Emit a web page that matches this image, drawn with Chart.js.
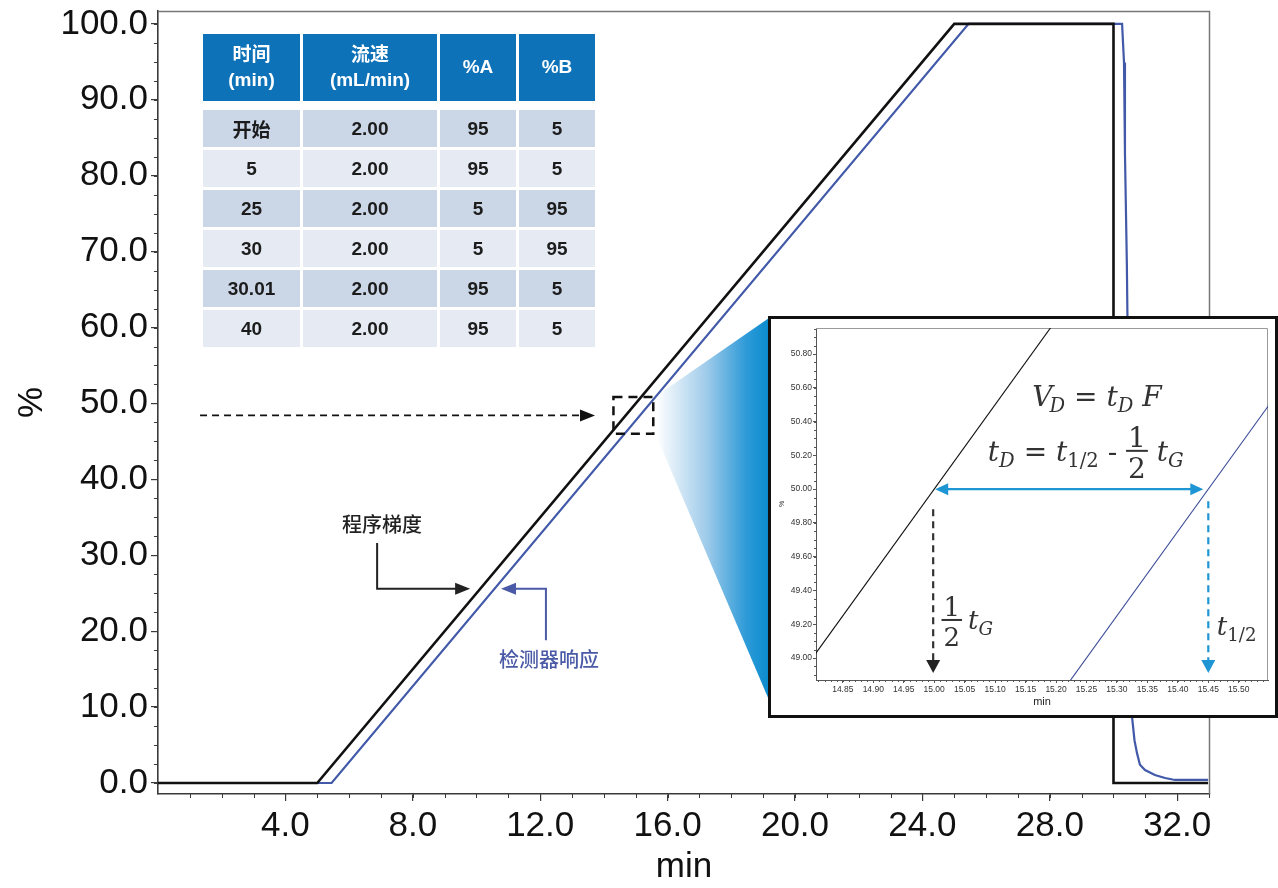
<!DOCTYPE html>
<html>
<head>
<meta charset="utf-8">
<script src="https://cdn.jsdelivr.net/npm/chart.js@4.4.1/dist/chart.umd.min.js"></script>
<style>
  html, body { margin: 0; padding: 0; background: #fff; }
  #wrap { position: relative; width: 1278px; height: 888px; overflow: hidden; }
  #main { position: absolute; left: 0; top: 0; }
  #zoomPanel { position: absolute; box-sizing: border-box; border: 3px solid #111; background: #fff; }
  #zoomChart { position: absolute; left: 0; top: 0; }
  .tbl { position: absolute; display: grid; column-gap: 3px; row-gap: 3px;
         font-family: "Liberation Sans", "Noto Sans CJK SC", sans-serif; font-weight: bold; font-size: 19px; }
  .tbl div { display: flex; align-items: center; justify-content: center; text-align: center; }
  #tblHead div { background: #0e72b8; color: #fff; white-space: pre-line; line-height: 1.3; }
  #tblBody div { color: #1c1c1c; }
  #tblBody div.dark { background: #cbd6e7; }
  #tblBody div.light { background: #e5eaf3; }
</style>
</head>
<body>
<div id="wrap">
  <canvas id="main" width="1278" height="888"></canvas>
  <div id="tblHead" class="tbl"></div>
  <div id="tblBody" class="tbl"></div>
  <div id="zoomPanel"><canvas id="zoomChart" width="504" height="396"></canvas></div>
</div>
<script>
// gradient program (%B normalised) and detector trace
const programTime = [0, 5, 25, 30, 30, 32.97];
const programPct  = [0, 0, 100, 100, 0, 0];
const detectorTime = [0, 5.45, 25.45, 30.27, 30.33, 30.36, 30.42, 30.50, 30.58, 30.66, 30.74, 30.83, 30.99, 31.30, 31.62, 31.93, 32.97];
const detectorPct  = [0, 0, 100, 100, 94.9, 83.0, 68.2, 38.0, 8.8, 5.6, 3.9, 2.4, 1.7, 1.05, 0.66, 0.4, 0.4];
const xTicks = [4, 8, 12, 16, 20, 24, 28, 32];
const yTicks = [0, 10, 20, 30, 40, 50, 60, 70, 80, 90, 100];

// close-up around the 50 % point
const zoomProgramTime  = [14.70, 15.25];
const zoomProgramPct   = [48.50, 51.25];
const zoomDetectorTime = [15.15, 15.65];
const zoomDetectorPct  = [48.50, 51.00];
const zoomXTicks = [14.85, 14.90, 14.95, 15.00, 15.05, 15.10, 15.15, 15.20, 15.25, 15.30, 15.35, 15.40, 15.45, 15.50];
const zoomYTicks = [49.00, 49.20, 49.40, 49.60, 49.80, 50.00, 50.20, 50.40, 50.60, 50.80];
const halfProgram = 15.00;   // 1/2 tG
const halfDetector = 15.45;  // t1/2
const halfPct = 50.00;

// gradient table
const tableHead = ['时间\n(min)', '流速\n(mL/min)', '%A', '%B'];
const tableTime = ['开始', '5', '25', '30', '30.01', '40'];
const tableFlow = ['2.00', '2.00', '2.00', '2.00', '2.00', '2.00'];
const tableA    = ['95', '95', '5', '5', '95', '95'];
const tableB    = ['5', '5', '95', '95', '5', '5'];

const SANS = '"Liberation Sans", Arial, sans-serif';
const CJK = '"Noto Sans CJK SC", sans-serif';
const MATH = '"DejaVu Serif", serif';
const BLACK = '#111';
const BLUE = '#4159a8';
const CYAN = '#1d96d3';

const panel = { left: 768, top: 316, w: 510, h: 402 };
const zoomBox = { x0: 14.30, x1: 15.55, y0: 46.0, y1: 50.85 };

// ---- table ----
const cols = '97px 134px 76px 76px';
const head = document.getElementById('tblHead');
head.style.cssText = `left:203px;top:34px;grid-template-columns:${cols};grid-template-rows:67px;`;
tableHead.forEach(t => { const d = document.createElement('div'); d.textContent = t; head.appendChild(d); });
const body = document.getElementById('tblBody');
body.style.cssText = `left:203px;top:110px;grid-template-columns:${cols};grid-template-rows:repeat(${tableTime.length},37px);`;
tableTime.forEach((t, i) => {
  [t, tableFlow[i], tableA[i], tableB[i]].forEach(v => {
    const d = document.createElement('div');
    d.className = i % 2 === 0 ? 'dark' : 'light';
    d.textContent = v;
    body.appendChild(d);
  });
});

const zp = document.getElementById('zoomPanel');
zp.style.left = panel.left + 'px'; zp.style.top = panel.top + 'px';
zp.style.width = panel.w + 'px'; zp.style.height = panel.h + 'px';

function arrowHead(ctx, tx, ty, ang, len, half, color) {
  ctx.save();
  ctx.translate(tx, ty);
  ctx.rotate(ang);
  ctx.fillStyle = color;
  ctx.beginPath();
  ctx.moveTo(0, 0); ctx.lineTo(-len, -half); ctx.lineTo(-len, half);
  ctx.closePath(); ctx.fill();
  ctx.restore();
}

function minorTicks(ctx, scale, from, to, step, len, horizontal, area) {
  ctx.beginPath();
  for (let v = from; v <= to + 1e-9; v += step) {
    const p = Math.round(scale.getPixelForValue(v)) + 0.5;
    if (horizontal) { ctx.moveTo(p, area.bottom); ctx.lineTo(p, area.bottom + len); }
    else { ctx.moveTo(area.left, p); ctx.lineTo(area.left - len, p); }
  }
  ctx.stroke();
}

// ---- main chart decorations ----
const mainDecor = {
  id: 'mainDecor',
  beforeDatasetsDraw(chart) {
    const { ctx, chartArea: a, scales: { x, y } } = chart;
    ctx.save();
    ctx.strokeStyle = '#777';
    ctx.lineWidth = 1.5;
    ctx.beginPath();
    ctx.moveTo(a.left, a.top + 0.5); ctx.lineTo(a.right - 0.5, a.top + 0.5); ctx.lineTo(a.right - 0.5, a.bottom);
    ctx.stroke();
    ctx.strokeStyle = '#3a3a3a';
    ctx.lineWidth = 1;
    minorTicks(ctx, x, 1, 33, 1, 4, true, a);
    minorTicks(ctx, y, 0, 100, 2.5, 4, false, a);

    // fan from the dashed box out to the close-up panel
    const bx = x.getPixelForValue(zoomBox.x1) + 3;
    const by0 = y.getPixelForValue(zoomBox.y1) - 1;
    const by1 = y.getPixelForValue(zoomBox.y0) + 2;
    const g = ctx.createLinearGradient(bx, 0, panel.left, 0);
    g.addColorStop(0, '#ffffff');
    g.addColorStop(0.45, '#9fcbea');
    g.addColorStop(0.8, '#2f9bd8');
    g.addColorStop(1, '#0b8ccf');
    ctx.fillStyle = g;
    ctx.beginPath();
    ctx.moveTo(bx, by0); ctx.lineTo(panel.left + 1, panel.top + 2);
    ctx.lineTo(panel.left + 1, panel.top + 384); ctx.lineTo(bx, by1);
    ctx.closePath(); ctx.fill();
    ctx.restore();
  },
  afterDatasetsDraw(chart) {
    const { ctx, scales: { x, y } } = chart;
    ctx.save();
    // dashed box
    const l = x.getPixelForValue(zoomBox.x0), r = x.getPixelForValue(zoomBox.x1);
    const t = y.getPixelForValue(zoomBox.y1), b = y.getPixelForValue(zoomBox.y0);
    ctx.strokeStyle = '#111';
    ctx.lineWidth = 2.5;
    ctx.setLineDash([9, 6]);
    ctx.strokeRect(l, t, r - l, b - t);
    // dashed pointer
    const py = (t + b) / 2;
    const tip = x.getPixelForValue(13.72);
    ctx.lineWidth = 1.6;
    ctx.setLineDash([7, 5]);
    ctx.beginPath(); ctx.moveTo(x.getPixelForValue(1.32), py); ctx.lineTo(tip - 12, py); ctx.stroke();
    ctx.setLineDash([]);
    arrowHead(ctx, tip, py, 0, 15, 6, '#111');

    // labelled elbow arrows
    const notes = [
      { text: '程序梯度', color: '#222', label: [7.03, 34.1], path: [[6.88, 31.6], [6.88, 25.6], [9.8, 25.6]] },
      { text: '检测器响应', color: '#4b5aa6', label: [12.28, 16.3], path: [[12.18, 18.8], [12.18, 25.6], [10.77, 25.6]] }
    ];
    notes.forEach(n => {
      const pts = n.path.map(p => [x.getPixelForValue(p[0]), y.getPixelForValue(p[1])]);
      const last = pts[pts.length - 1], prev = pts[pts.length - 2];
      const dir = Math.sign(last[0] - prev[0]);
      ctx.strokeStyle = n.color;
      ctx.lineWidth = 2;
      ctx.beginPath();
      ctx.moveTo(pts[0][0], pts[0][1]);
      ctx.lineTo(pts[1][0], pts[1][1]);
      ctx.lineTo(last[0] - dir * 12, last[1]);
      ctx.stroke();
      arrowHead(ctx, last[0], last[1], dir > 0 ? 0 : Math.PI, 15, 6, n.color);
      ctx.fillStyle = n.color;
      ctx.font = '500 20px ' + CJK;
      ctx.textAlign = 'center';
      ctx.textBaseline = 'middle';
      ctx.fillText(n.text, x.getPixelForValue(n.label[0]), y.getPixelForValue(n.label[1]));
    });
    ctx.restore();
  }
};

// ---- math text for the close-up ----
function drawMath(ctx, x0, y0, parts, size) {
  let cx = x0;
  ctx.textBaseline = 'alphabetic';
  for (const p of parts) {
    if (p.frac) {
      ctx.font = `${size}px ${MATH}`;
      const w = Math.max(ctx.measureText(p.frac[0]).width, ctx.measureText(p.frac[1]).width) + 4;
      const bar = y0 - size * 0.36;
      const dh = size * 0.73;
      ctx.textAlign = 'center';
      ctx.fillText(p.frac[0], cx + w / 2, bar - 4);
      ctx.fillText(p.frac[1], cx + w / 2, bar + dh + 7);
      ctx.fillRect(cx, bar - 1, w, 2);
      ctx.textAlign = 'left';
      cx += w + (p.gap || 0);
    } else {
      const fs = p.sub ? size * 0.7 : size;
      ctx.font = `${p.up ? '' : 'italic '}${fs}px ${MATH}`;
      ctx.textAlign = 'left';
      cx += p.dx || 0;
      ctx.fillText(p.t, cx, y0 + (p.sub ? size * 0.22 : 0));
      cx += ctx.measureText(p.t).width;
    }
  }
}

const zoomDecor = {
  id: 'zoomDecor',
  beforeDatasetsDraw(chart) {
    const { ctx, chartArea: a, scales: { x, y } } = chart;
    ctx.save();
    ctx.strokeStyle = '#9a9a9a';
    ctx.lineWidth = 1;
    ctx.beginPath();
    ctx.moveTo(a.left, a.top + 0.5); ctx.lineTo(a.right - 0.5, a.top + 0.5); ctx.lineTo(a.right - 0.5, a.bottom);
    ctx.stroke();
    ctx.strokeStyle = '#555';
    minorTicks(ctx, x, 14.81, 15.54, 0.01, 2, true, a);
    minorTicks(ctx, y, 48.90, 50.95, 0.05, 2, false, a);
    ctx.restore();
  },
  afterDatasetsDraw(chart) {
    const { ctx, chartArea: a, scales: { x, y } } = chart;
    ctx.save();
    const xl = x.getPixelForValue(halfProgram);
    const xr = x.getPixelForValue(halfDetector);
    const ym = y.getPixelForValue(halfPct);
    const yTip = a.bottom - 7;
    // tD span
    ctx.strokeStyle = CYAN;
    ctx.lineWidth = 2.2;
    ctx.beginPath(); ctx.moveTo(xl + 12, ym); ctx.lineTo(xr - 16, ym); ctx.stroke();
    arrowHead(ctx, xl + 1, ym, Math.PI, 13, 6, CYAN);
    arrowHead(ctx, xr - 5, ym, 0, 13, 6, CYAN);
    // drops to the time axis
    ctx.setLineDash([7, 5]);
    ctx.strokeStyle = '#333';
    ctx.beginPath(); ctx.moveTo(xl - 1, ym + 20); ctx.lineTo(xl - 1, yTip - 12); ctx.stroke();
    ctx.strokeStyle = CYAN;
    ctx.beginPath(); ctx.moveTo(xr, ym + 12); ctx.lineTo(xr, yTip - 12); ctx.stroke();
    ctx.setLineDash([]);
    arrowHead(ctx, xl - 1, yTip, Math.PI / 2, 13, 7, '#222');
    arrowHead(ctx, xr, yTip, Math.PI / 2, 13, 7, CYAN);

    ctx.fillStyle = '#333';
    drawMath(ctx, x.getPixelForValue(15.161), y.getPixelForValue(50.492),
      [{ t: 'V' }, { t: 'D', sub: 1, dx: -3 }, { t: ' = ', up: 1 }, { t: 't' }, { t: 'D', sub: 1 }, { t: ' F', up: 0 }], 28);
    drawMath(ctx, x.getPixelForValue(15.088), y.getPixelForValue(50.167),
      [{ t: 't' }, { t: 'D', sub: 1 }, { t: ' = ', up: 1 }, { t: 't' }, { t: '1/2', sub: 1, up: 1 }, { t: ' - ', up: 1 },
       { frac: ['1', '2'] }, { t: ' ', up: 1 }, { t: 't' }, { t: 'G', sub: 1 }], 28);
    drawMath(ctx, x.getPixelForValue(15.012), y.getPixelForValue(49.17),
      [{ frac: ['1', '2'], gap: 6 }, { t: 't' }, { t: 'G', sub: 1 }], 26);
    drawMath(ctx, x.getPixelForValue(15.464), y.getPixelForValue(49.136),
      [{ t: 't' }, { t: '1/2', sub: 1, up: 1 }], 26);
    ctx.restore();
  }
};

const xy = (xs, ys) => xs.map((v, i) => ({ x: v, y: ys[i] }));

Chart.defaults.font.family = SANS;
Chart.defaults.color = BLACK;

new Chart(document.getElementById('main'), {
  type: 'line',
  data: {
    datasets: [
      { label: '程序梯度', data: xy(programTime, programPct), borderColor: BLACK, borderWidth: 2.6,
        pointRadius: 0, tension: 0, order: 0 },
      { label: '检测器响应', data: xy(detectorTime, detectorPct), borderColor: BLUE, borderWidth: 2.2,
        pointRadius: 0, tension: 0, order: 1 }
    ]
  },
  options: {
    animation: false, responsive: false, devicePixelRatio: 1,
    layout: { padding: { top: 11, right: 68, left: 0, bottom: 0 } },
    plugins: { legend: { display: false }, tooltip: { enabled: false } },
    scales: {
      x: {
        type: 'linear', min: 0, max: 33.03,
        afterBuildTicks: s => { s.ticks = xTicks.map(v => ({ value: v })); },
        afterFit: s => { s.height = 94; s.paddingLeft = 0; s.paddingRight = 0; },
        border: { color: '#3a3a3a', width: 1.6 },
        grid: { drawOnChartArea: false, drawTicks: true, tickLength: 7, color: '#3a3a3a', lineWidth: 1.2 },
        ticks: { padding: 4, autoSkip: false, maxRotation: 0, color: BLACK, font: { size: 35 },
                 callback: v => v.toFixed(1) },
        title: { display: true, text: 'min', color: BLACK, font: { size: 35 }, padding: { top: 0, bottom: 0 } }
      },
      y: {
        type: 'linear', min: -1.45, max: 101.7,
        afterBuildTicks: s => { s.ticks = yTicks.map(v => ({ value: v })); },
        afterFit: s => { s.width = 158; s.paddingTop = 0; s.paddingBottom = 0; },
        border: { color: '#3a3a3a', width: 1.6 },
        grid: { drawOnChartArea: false, drawTicks: true, tickLength: 7, color: '#3a3a3a', lineWidth: 1.2 },
        ticks: { padding: 3, color: BLACK, font: { size: 35 }, callback: v => v.toFixed(1) },
        title: { display: true, text: '%', color: BLACK, font: { size: 35 }, padding: { top: 11, bottom: 0 } }
      }
    }
  },
  plugins: [mainDecor]
});

new Chart(document.getElementById('zoomChart'), {
  type: 'line',
  data: {
    datasets: [
      { data: xy(zoomProgramTime, zoomProgramPct), borderColor: '#111', borderWidth: 1.1, pointRadius: 0 },
      { data: xy(zoomDetectorTime, zoomDetectorPct), borderColor: '#3b4a98', borderWidth: 1.1, pointRadius: 0 }
    ]
  },
  options: {
    animation: false, responsive: false, devicePixelRatio: 1,
    layout: { padding: { top: 9, right: 7, left: 0, bottom: 0 } },
    plugins: { legend: { display: false }, tooltip: { enabled: false } },
    scales: {
      x: {
        type: 'linear', min: 14.806, max: 15.548,
        afterBuildTicks: s => { s.ticks = zoomXTicks.map(v => ({ value: v })); },
        afterFit: s => { s.height = 35; s.paddingLeft = 0; s.paddingRight = 0; },
        border: { color: '#555', width: 1 },
        grid: { drawOnChartArea: false, drawTicks: true, tickLength: 3, color: '#555', lineWidth: 1 },
        ticks: { padding: 2, autoSkip: false, maxRotation: 0, color: '#333', font: { size: 8.5 },
                 callback: v => v.toFixed(2) },
        title: { display: true, text: 'min', color: '#222', font: { size: 11 }, padding: { top: 0, bottom: 6 } }
      },
      y: {
        type: 'linear', min: 48.87, max: 50.954,
        afterBuildTicks: s => { s.ticks = zoomYTicks.map(v => ({ value: v })); },
        afterFit: s => { s.width = 45; s.paddingTop = 0; s.paddingBottom = 0; },
        border: { color: '#555', width: 1 },
        grid: { drawOnChartArea: false, drawTicks: true, tickLength: 3, color: '#555', lineWidth: 1 },
        ticks: { padding: 1, color: '#333', font: { size: 8.5 }, callback: v => v.toFixed(2) },
        title: { display: true, text: '%', color: '#333', font: { size: 7 }, padding: { top: 7, bottom: 0 } }
      }
    }
  },
  plugins: [zoomDecor]
});
</script>
</body>
</html>
